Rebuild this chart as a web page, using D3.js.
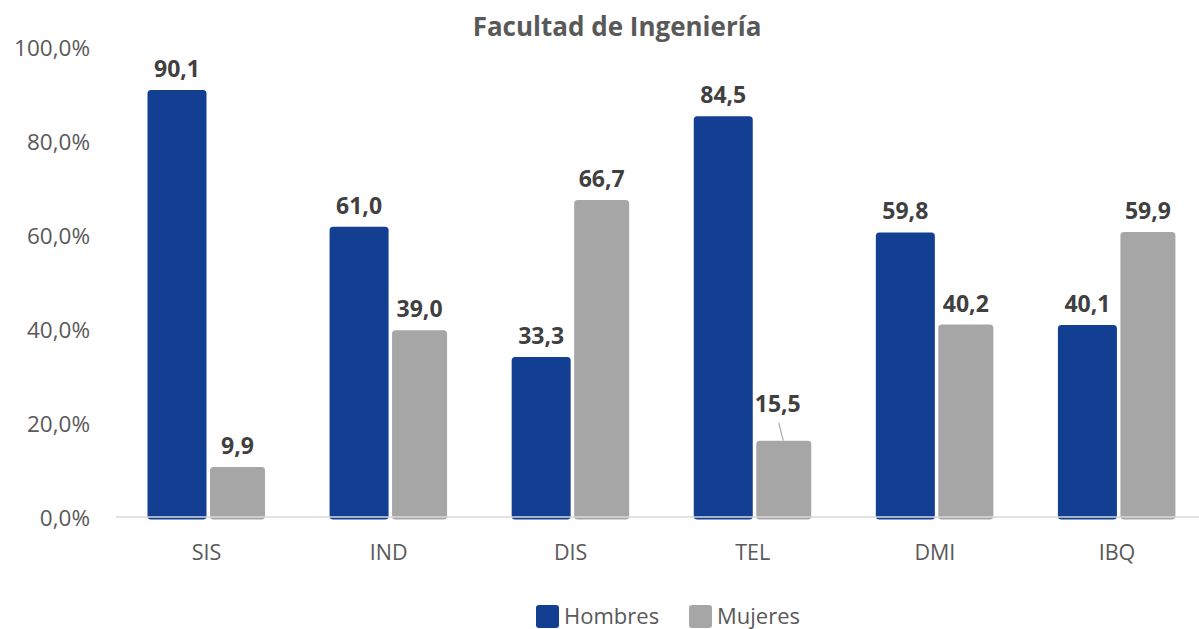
<!DOCTYPE html>
<html><head><meta charset="utf-8">
<script src="https://cdn.jsdelivr.net/npm/d3@7"></script>
<style>html,body{margin:0;padding:0;background:#fff;}svg{display:block;font-family:"Open Sans",sans-serif;}</style>
</head><body>
<svg id="c" width="1199" height="629"></svg>
<script>
const title = "Facultad de Ingeniería";
const categories = ["SIS","IND","DIS","TEL","DMI","IBQ"];
const seriesNames = ["Hombres","Mujeres"];
const hombres = [90.1, 61.0, 33.3, 84.5, 59.8, 40.1];
const mujeres = [9.9, 39.0, 66.7, 15.5, 40.2, 59.9];
const yTicks = [0,20,40,60,80,100];

const colors = {Hombres:"#123F91", Mujeres:"#A6A6A6"};
const svg = d3.select("#c");
const fmt = v => v.toFixed(1).replace(".", ",");

const x = d3.scaleBand().domain(categories).range([115.5, 1208]).padding(0);
const inner = d3.scaleOrdinal().domain(seriesNames).range([32, 94.5]);
const barW = {Hombres:59, Mujeres:55};
const y = d3.scaleLinear().domain([0,100]).range([513.5, 43.5]);

// title
svg.append("text").attr("x",617).attr("y",36).attr("text-anchor","middle")
  .attr("font-size",26).attr("font-weight","bold").attr("fill","#595959").text(title);

// y tick labels
svg.append("g").selectAll("text").data(yTicks).join("text")
  .attr("x",90).attr("y",d=>y(d)+12).attr("text-anchor","end")
  .attr("font-size",22.5).attr("fill","#595959")
  .text(d=>d.toFixed(1).replace(".",",")+"%");

const rows = [];
categories.forEach((c,i)=>{
  rows.push({cat:c, s:"Hombres", v:hombres[i]});
  rows.push({cat:c, s:"Mujeres", v:mujeres[i]});
});

// bars
svg.append("g").selectAll("rect").data(rows).join("rect")
  .attr("x",d=>x(d.cat)+inner(d.s))
  .attr("y",d=>y(d.v))
  .attr("width",d=>barW[d.s])
  .attr("height",d=>y(0)+6-y(d.v))
  .attr("rx",3.5).attr("ry",3.5)
  .attr("fill",d=>colors[d.s]);

// axis line
svg.append("line").attr("x1",116).attr("x2",1199).attr("y1",y(0)+3.5).attr("y2",y(0)+3.5)
  .attr("stroke","#D9D9D9").attr("stroke-width",1.5);

// category labels
svg.append("g").selectAll("text").data(categories).join("text")
  .attr("x",d=>x(d)+x.bandwidth()/2).attr("y",560).attr("text-anchor","middle")
  .attr("font-size",21.5).attr("fill","#595959").text(d=>d);

// value labels
const labelShift = {"TEL|Mujeres":{dx:-6, dy:-16}};
const lg = svg.append("g");
rows.forEach(d=>{
  const cx = x(d.cat)+inner(d.s)+barW[d.s]/2;
  const sh = labelShift[d.cat+"|"+d.s] || {dx:0, dy:0};
  const ty = y(d.v)-13+sh.dy;
  lg.append("text").attr("x",cx+sh.dx).attr("y",ty).attr("text-anchor","middle")
    .attr("font-size",23).attr("font-weight","bold").attr("fill","#404040").text(fmt(d.v));
  if (labelShift[d.cat+"|"+d.s]) {
    lg.append("line").attr("x1",cx+sh.dx+1).attr("y1",ty+11).attr("x2",cx-0.5).attr("y2",y(d.v))
      .attr("stroke","#A6A6A6").attr("stroke-width",1.2);
  }
});

// legend
const legX = [536, 689];
const leg = svg.append("g");
seriesNames.forEach((s,i)=>{
  leg.append("rect").attr("x",legX[i]).attr("y",605).attr("width",23).attr("height",23)
    .attr("rx",3).attr("fill",colors[s]);
  leg.append("text").attr("x",legX[i]+28).attr("y",624).attr("font-size",22)
    .attr("fill","#595959").text(s);
});
</script>
</body></html>
